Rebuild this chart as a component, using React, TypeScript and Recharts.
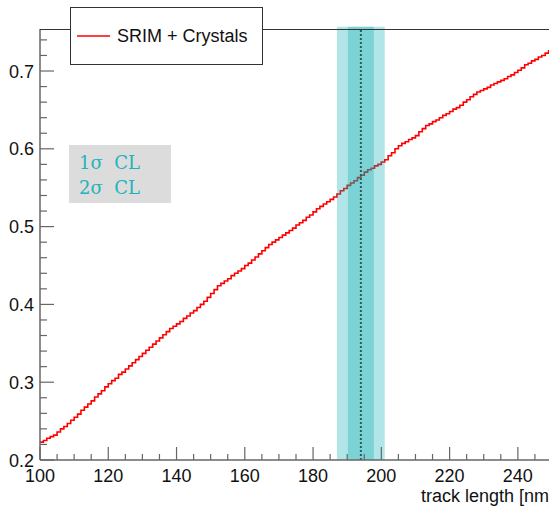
import React from 'react';
import { ComposedChart, Line, XAxis, YAxis, ReferenceArea, ReferenceLine } from 'recharts';

// Histogram "SRIM + Crystals": bins of width 1 starting at 100
const binStart = 100;
const binWidth = 1;
const srimCrystals = [
  0.223, 0.225, 0.228, 0.230, 0.232, 0.236, 0.240, 0.243, 0.247, 0.251,
  0.255, 0.259, 0.264, 0.268, 0.272, 0.276, 0.281, 0.285, 0.289, 0.294,
  0.298, 0.302, 0.305, 0.310, 0.313, 0.317, 0.321, 0.325, 0.329, 0.333,
  0.337, 0.341, 0.345, 0.349, 0.353, 0.357, 0.361, 0.365, 0.369, 0.372,
  0.375, 0.378, 0.382, 0.385, 0.389, 0.392, 0.396, 0.400, 0.404, 0.409,
  0.414, 0.419, 0.424, 0.427, 0.430, 0.433, 0.437, 0.440, 0.443, 0.446,
  0.450, 0.453, 0.457, 0.461, 0.465, 0.469, 0.473, 0.477, 0.480, 0.483,
  0.486, 0.489, 0.492, 0.495, 0.498, 0.502, 0.505, 0.508, 0.512, 0.515,
  0.519, 0.523, 0.526, 0.529, 0.532, 0.535, 0.538, 0.542, 0.546, 0.549,
  0.553, 0.556, 0.559, 0.563, 0.566, 0.570, 0.573, 0.575, 0.578, 0.580,
  0.583, 0.586, 0.591, 0.595, 0.600, 0.604, 0.607, 0.609, 0.612, 0.614,
  0.617, 0.622, 0.626, 0.630, 0.632, 0.635, 0.637, 0.640, 0.643, 0.645,
  0.648, 0.651, 0.653, 0.656, 0.660, 0.663, 0.667, 0.670, 0.673, 0.675,
  0.677, 0.679, 0.682, 0.684, 0.686, 0.688, 0.690, 0.693, 0.695, 0.698,
  0.701, 0.704, 0.708, 0.710, 0.713, 0.715, 0.718, 0.720, 0.723, 0.726,
];

const xDomain = [100, 250];
const yDomain = [0.2, 0.754];

const xTicks = [
  100, 105, 110, 115, 120, 125, 130, 135, 140, 145, 150, 155, 160, 165, 170,
  175, 180, 185, 190, 195, 200, 205, 210, 215, 220, 225, 230, 235, 240, 245, 250,
];
const xLabelTicks = [100, 120, 140, 160, 180, 200, 220, 240];
const yTicks = [
  0.2, 0.22, 0.24, 0.26, 0.28, 0.3, 0.32, 0.34, 0.36, 0.38, 0.4, 0.42, 0.44,
  0.46, 0.48, 0.5, 0.52, 0.54, 0.56, 0.58, 0.6, 0.62, 0.64, 0.66, 0.68, 0.7,
  0.72, 0.74,
];
const yLabelTicks = [0.2, 0.3, 0.4, 0.5, 0.6, 0.7];

const sigma2 = [187.0, 201.0];
const sigma1 = [190.2, 197.8];
const bestValue = 194.0;

const legendLabel = 'SRIM + Crystals';
const boxLabels = ['1σ  CL', '2σ  CL'];
const xTitle = 'track length [nm]';

const data = [
  ...srimCrystals.map((v, i) => ({ x: binStart + i * binWidth, y: v })),
  { x: binStart + srimCrystals.length * binWidth, y: srimCrystals[srimCrystals.length - 1] },
];

const FONT = '"Liberation Sans", Arial, Helvetica, sans-serif';

const XTick = (props: any) => {
  const { x, y, payload } = props;
  const v = payload.value;
  const major = xLabelTicks.some((t) => Math.abs(t - v) < 1e-6);
  return (
    <g>
      <line x1={x} x2={x} y1={y} y2={y - (major ? 13 : 6)} stroke="#666" strokeWidth={1.2} />
      {major && (
        <text x={x} y={y + 22} textAnchor="middle" fontSize={18} fill="#111" fontFamily={FONT}>
          {v}
        </text>
      )}
    </g>
  );
};

const YTick = (props: any) => {
  const { x, y, payload } = props;
  const v = payload.value;
  const major = yLabelTicks.some((t) => Math.abs(t - v) < 1e-6);
  return (
    <g>
      <line x1={x} x2={x + (major ? 14 : 7)} y1={y} y2={y} stroke="#666" strokeWidth={1.2} />
      {major && (
        <text x={x - 6} y={y + 6.5} textAnchor="end" fontSize={18} fill="#111" fontFamily={FONT}>
          {v.toFixed(1)}
        </text>
      )}
    </g>
  );
};

export default function App() {
  return (
    <div
      style={{
        position: 'fixed',
        left: 0,
        top: 0,
        width: 549,
        height: 506,
        overflow: 'hidden',
        background: '#fff',
      }}
    >
      <ComposedChart
        width={560}
        height={506}
        data={data}
        margin={{ top: 29, right: 8, bottom: 0, left: 0 }}
      >
        <XAxis
          dataKey="x"
          type="number"
          domain={xDomain}
          ticks={xTicks}
          interval={0}
          allowDataOverflow
          height={46}
          tickSize={0}
          tickMargin={0}
          tickLine={false}
          axisLine={{ stroke: '#666', strokeWidth: 1.5 }}
          tick={<XTick />}
        />
        <YAxis
          type="number"
          domain={yDomain}
          ticks={yTicks}
          interval={0}
          allowDataOverflow
          width={40}
          tickSize={0}
          tickMargin={0}
          tickLine={false}
          axisLine={{ stroke: '#666', strokeWidth: 1.5 }}
          tick={<YTick />}
        />
        <Line
          dataKey="y"
          type="stepAfter"
          stroke="#ff0000"
          strokeWidth={1.6}
          dot={false}
          isAnimationActive={false}
        />
        <ReferenceArea
          x1={sigma2[0]}
          x2={sigma2[1]}
          y1={0.2}
          y2={0.757}
          ifOverflow="visible"
          fill="#00aab1"
          fillOpacity={0.3}
          stroke="none"
          zIndex={450}
        />
        <ReferenceArea
          x1={sigma1[0]}
          x2={sigma1[1]}
          y1={0.2}
          y2={0.757}
          ifOverflow="visible"
          fill="#00aab1"
          fillOpacity={0.3}
          stroke="none"
          zIndex={450}
        />
        <ReferenceLine
          x={bestValue}
          stroke="#2f5858"
          strokeWidth={2}
          strokeDasharray="2 2"
          zIndex={460}
        />
      </ComposedChart>
      <svg
        width={549}
        height={506}
        style={{ position: 'absolute', left: 0, top: 0, pointerEvents: 'none' }}
      >
        <line x1={40} x2={549} y1={29.5} y2={29.5} stroke="#333" strokeWidth={1} />
        <rect x={70.5} y={7.5} width={192} height={57} fill="#fff" stroke="#333" strokeWidth={1} />
        <line x1={77} x2={110} y1={36} y2={36} stroke="#ff0000" strokeWidth={1.6} />
        <text x={117} y={42} fontSize={18} fill="#111" fontFamily={FONT}>
          {legendLabel}
        </text>
        <rect x={69} y={145} width={102} height={58} fill="#dcdcdc" />
        <text x={79} y={169} fontSize={18} fill="#1fb3bb" fontFamily='"DejaVu Serif", serif' xmlSpace="preserve">
          {boxLabels[0]}
        </text>
        <text x={79} y={194} fontSize={18} fill="#1fb3bb" fontFamily='"DejaVu Serif", serif' xmlSpace="preserve">
          {boxLabels[1]}
        </text>
        <text x={554} y={502} textAnchor="end" fontSize={18} fill="#111" fontFamily={FONT}>
          {xTitle}
        </text>
      </svg>
    </div>
  );
}
